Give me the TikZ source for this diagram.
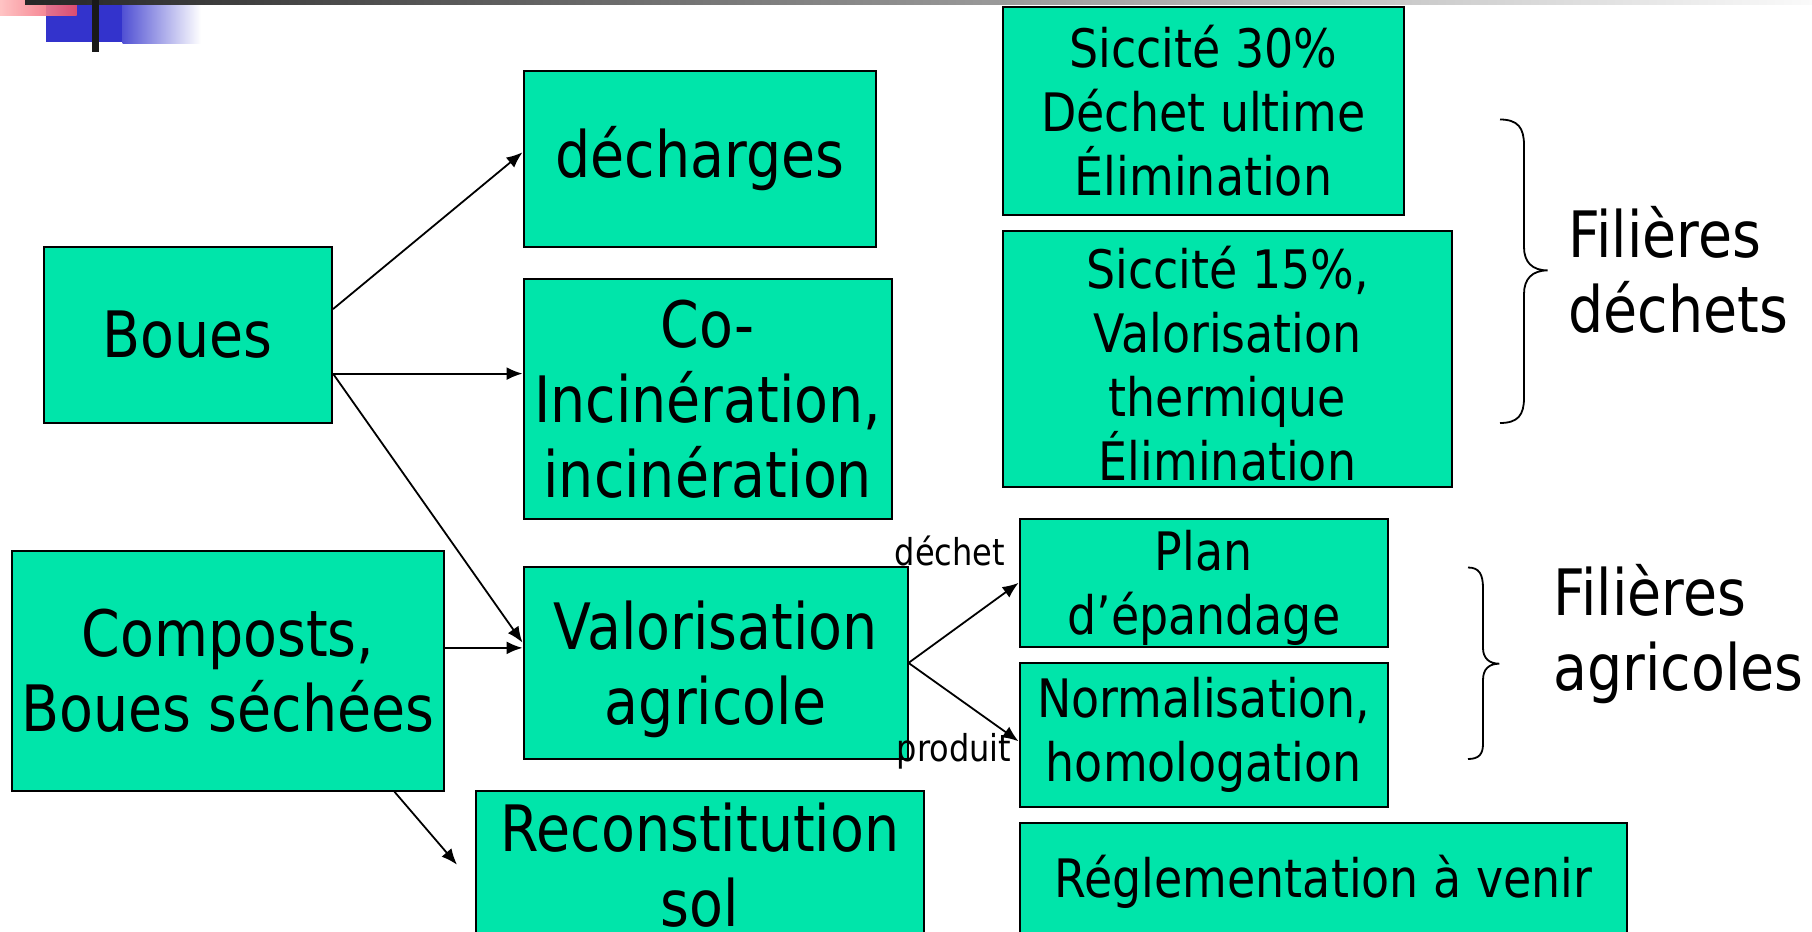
\documentclass[tikz,border=0pt]{standalone}
\usepackage{fontspec}
\setmainfont[FakeStretch=0.866]{DejaVu Sans}
\usetikzlibrary{arrows.meta}
\definecolor{boxgreen}{HTML}{00E5AA}
\definecolor{slideblue}{HTML}{3333CC}
\definecolor{slidepink}{HTML}{FFBDBD}
\definecolor{slidered}{HTML}{EE5068}

\begin{document}
\begin{tikzpicture}[x=0.5pt, y=-0.5pt,
    box/.style={draw, line width=1pt, fill=boxgreen, inner sep=0pt, align=center},
    big/.style={font=\fontsize{32}{37.5}\selectfont},
    small/.style={font=\fontsize{26.5}{32}\selectfont},
    lbl/.style={inner sep=0pt, font=\fontsize{18.5}{22}\selectfont},
    arr/.style={-{Latex[length=8pt,width=6.5pt]}, line width=0.9pt},
    brace/.style={line width=0.9pt}]
    \useasboundingbox (0,0) rectangle (1812,932); \clip (0,0) rectangle (1812,932);

    \fill[slideblue] (45.6,4) rectangle (122.6,42); \shade[left color=slideblue!85,
    right color=white] (122.6,4) rectangle (201,43); \shade[left color=slidepink,
    right color=slidered, opacity=0.9] (0,0) rectangle (76.6,15.7); \shade[left
    color=black!85, right color=black!2] (25,0) rectangle (1812,4); \fill[black!90]
    (92,0) rectangle (98.8,51.7);

    \node[box, big, minimum width=144.2pt, minimum height=88pt] (boues) at
    (187.8,334.7) {Boues}; \node[box, big, minimum width=216.1pt, minimum
    height=120pt] (composts) at (227.9,670.7) {Composts,\\Boues séchées};
    \node[box, big, minimum width=176.25pt, minimum height=88pt] (decharges) at
    (699.75,158.5) {décharges}; \node[box, big, minimum width=184.25pt, minimum
    height=120.25pt] (coinc) at (707.75,398.75)
    {Co-\\Incinération,\\incinération}; \node[box, big, minimum width=192pt,
    minimum height=96.15pt] (valor) at (715.5,662.9)
    {Valorisation\\\raisebox{0pt}[\height][0pt]{agricole}}; \node[box, big,
    minimum width=224pt, minimum height=74pt] (recon) at (700,864.7)
    {Reconstitution\\sol};

    \node[box, small, minimum width=200.5pt, minimum height=104pt] (sic30) at
    (1203.5,111) {Siccité 30\%\\Déchet ultime\\Élimination}; \node[box, small,
    minimum width=224.5pt, minimum height=128pt] (sic15) at (1227.5,359)
    {\raisebox{0pt}[\dimexpr\height+5pt]{Siccité 15\%,}\\Valorisation\\thermique\\Élimination};
    \node[box, small, minimum width=184.2pt, minimum height=63.85pt] (plan) at
    (1203.8,582.85) {Plan\\\raisebox{0pt}[\height][0pt]{d’épandage}};
    \node[box, small, minimum width=184.2pt, minimum height=71.85pt] (norm) at
    (1203.8,734.85) {Normalisation,\\homologation}; \node[box, small, minimum
    width=303.5pt, minimum height=58.65pt] (regl) at (1323.5,881.35)
    {Réglementation à venir};

    \node[lbl, anchor=base] (dechet) at (950,565) {déchet}; \node[lbl,
    anchor=base] (produit) at (954,761.7) {produit}; \node[big, inner sep=0pt,
    align=left, anchor=west] (fildech) at (1568,270) {Filières\\déchets};
    \node[big, inner sep=0pt, align=left, anchor=west] (filagri) at (1553,634)
    {Filières\\agricoles};

    \path[arr] (boues.10) edge (decharges.178); \path[arr] (boues.345) edge
    (boues.345 -| coinc.west); \path[arr] (boues.345) edge (valor.174);
    \path[arr] (composts.6) edge (composts.6 -| valor.west); \path[arr]
    (composts.324) edge ([xshift=-9pt]recon.west); \path[arr] (valor.east) edge
    (plan.west); \path[arr] (valor.east) edge (norm.182);

    \draw[brace] (1500,119.5) .. controls (1518,119.5) and (1524,128) ..
    (1524,145) -- (1524,247) .. controls (1524,262) and (1532,270.4) ..
    (1547.7,270.4) .. controls (1532,270.4) and (1524,279) .. (1524,294) --
    (1524,398) .. controls (1524,415) and (1518,423) .. (1500,423); \draw[brace]
    (1468,567.5) .. controls (1479,567.5) and (1483,574) .. (1483,588) --
    (1483,648) .. controls (1483,658) and (1489,663.7) .. (1499.3,663.7) ..
    controls (1489,663.7) and (1483,669) .. (1483,680) -- (1483,744) .. controls
    (1483,754) and (1479,759) .. (1468,759);
\end{tikzpicture}
\end{document}
